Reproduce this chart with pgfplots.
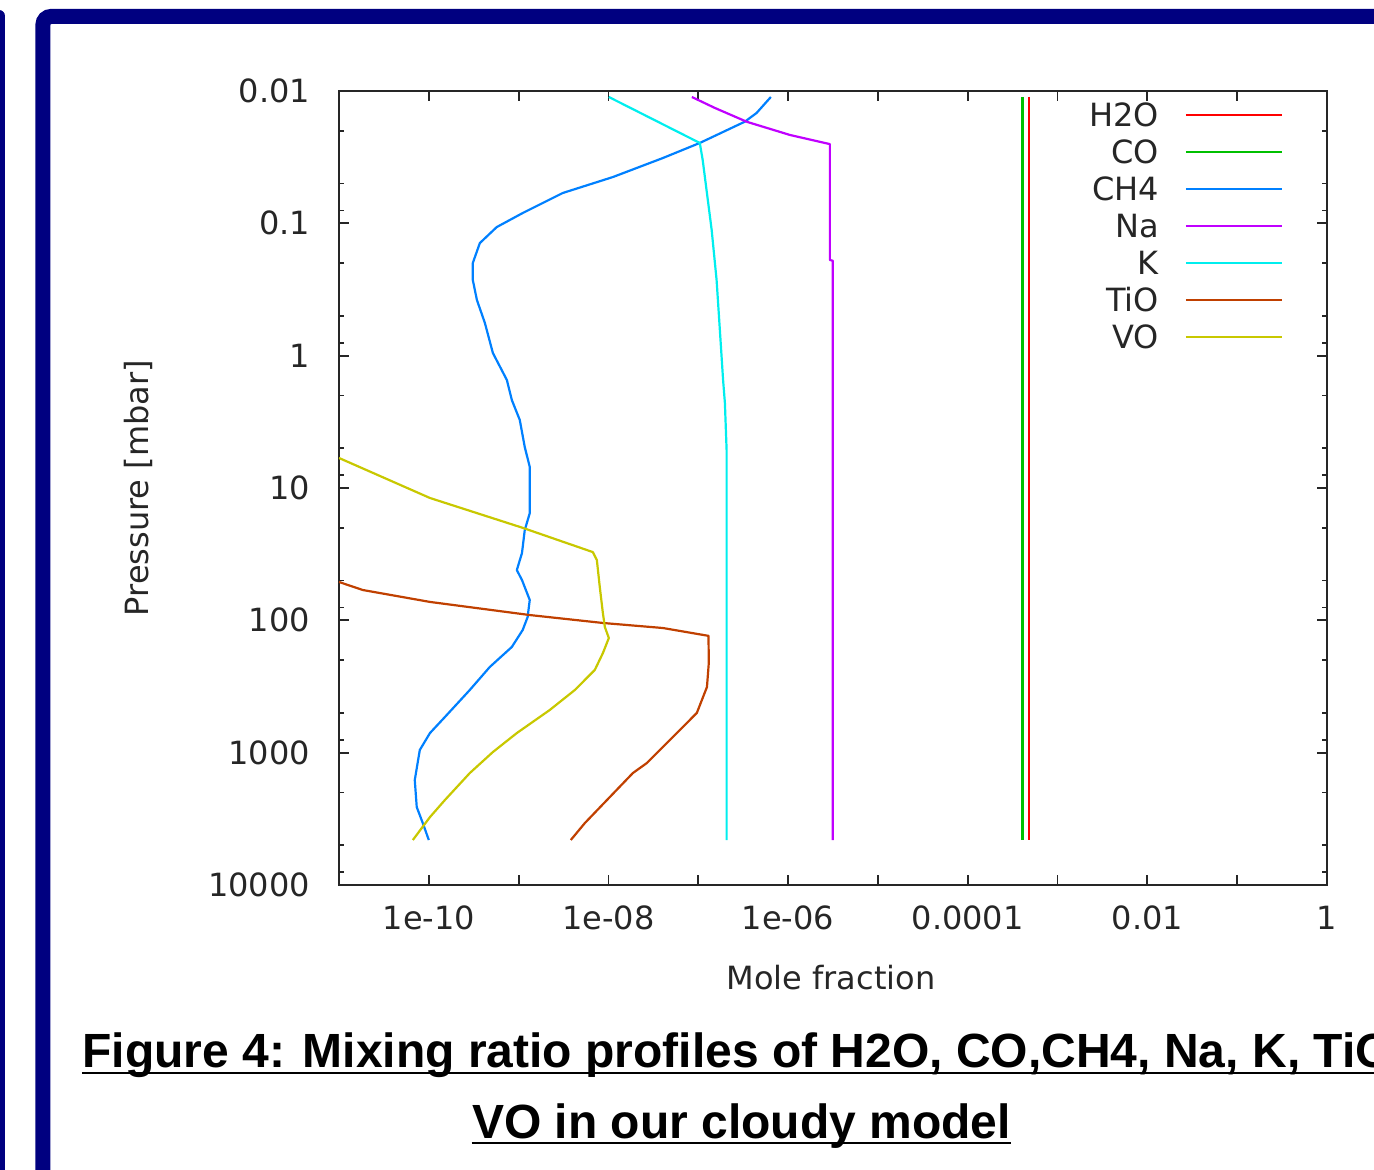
\documentclass[border=0pt]{standalone}
\usepackage{pgfplots}
\pgfplotsset{compat=1.18}
\usepackage{fontspec}
\setmainfont{DejaVu Sans}
\newfontfamily\capfont{Liberation Sans}

\definecolor{framenavy}{RGB}{0,0,128}
\definecolor{cHtwoO}{HTML}{FF0000}
\definecolor{cCO}{HTML}{00C000}
\definecolor{cCHfour}{HTML}{0080FF}
\definecolor{cNa}{HTML}{C000FF}
\definecolor{cK}{HTML}{00EEEE}
\definecolor{cTiO}{HTML}{C04000}
\definecolor{cVO}{HTML}{C8C800}

\begin{document}
\begin{tikzpicture}
% page = 1374 x 1170 px at 0.5pt/px, origin at the axis' lower left corner
\useasboundingbox (-169.5pt,-142.5pt) rectangle (517.5pt,442.5pt);
\fill[framenavy, rounded corners=3pt] (-179.5pt,-182.5pt) rectangle (-167pt,437.5pt);
\draw[framenavy, line width=7.5pt, rounded corners=4pt] (-148pt,-207.5pt) rectangle (555.5pt,434.25pt);

\begin{axis}[
  at={(0,0)}, anchor=south west,
  scale only axis,
  width=494pt, height=397pt,
  xmode=log, ymode=log,
  xmin=1e-11, xmax=1,
  ymin=0.01, ymax=10000,
  y dir=reverse,
  axis line style={black!85, line width=1pt},
  tick style={black!85, line width=0.9pt},
  major tick length=5pt, minor tick length=2.6pt,
  tick align=inside,
  xtick={1e-10,1e-9,1e-8,1e-7,1e-6,1e-5,1e-4,1e-3,1e-2,1e-1,1},
  xticklabels={1e-10,,1e-08,,1e-06,,0.0001,,0.01,,1},
  minor x tick style={draw=none},
  ytick={0.01,0.1,1,10,100,1000,10000},
  yticklabels={0.01,0.1,1,10,100,1000,10000},
  minor ytick={0.02,0.05,0.08,0.2,0.5,0.8,2,5,8,20,50,80,200,500,800,2000,5000,8000},
  tick label style={font=\fontsize{16pt}{19pt}\selectfont, text=black!85},
  yticklabel style={xshift=-11pt},
  xticklabel style={yshift=-7pt},
  label style={font=\fontsize{16pt}{19pt}\selectfont, text=black!85},
  xlabel={Mole fraction},
  ylabel={Pressure [mbar]},
  xlabel style={at={(axis description cs:0.498,-0.117)}, anchor=center},
  ylabel style={at={(axis description cs:-0.2034,0.5)}, anchor=center},
  legend cell align=right,
  legend plot pos=right,
  legend image code/.code={\draw[#1] (0pt,0pt) -- (48pt,0pt);},
  legend style={draw=none, fill=none, at={(axis description cs:0.962,0.99)}, anchor=north east,
    font=\fontsize{16pt}{19pt}\selectfont, text=black!85,
    row sep=7pt, column sep=13pt,
    nodes={inner sep=0pt, text height=11.5pt, text depth=0pt}},
  every axis plot/.append style={line width=1.1pt, no markers, line join=round},
]
\addplot[cHtwoO] coordinates {(4.84e-4,0.0111) (4.84e-4,4571)};
\addlegendentry{H2O}
\addplot[cCO] coordinates {(4.08e-4,0.0111) (4.08e-4,4571)};
\addlegendentry{CO}
\addplot[cCHfour] coordinates {
  (6.43e-7,0.0111) (4.46e-7,0.01466) (3.30e-7,0.01706) (1.04e-7,0.0247)
  (4.04e-8,0.0321) (1.12e-8,0.0447) (3.10e-9,0.0590) (1.11e-9,0.0836)
  (5.71e-10,0.1067) (3.70e-10,0.141) (3.09e-10,0.1995) (3.09e-10,0.268)
  (3.43e-10,0.379) (4.21e-10,0.566) (5.17e-10,0.955) (7.40e-10,1.528)
  (8.40e-10,2.163) (1.03e-9,3.06) (1.17e-9,4.90) (1.33e-9,6.93)
  (1.33e-9,15.5) (1.17e-9,20.8) (1.09e-9,31.0) (9.55e-10,41.7)
  (1.09e-9,49.6) (1.33e-9,70.2) (1.26e-9,94.4) (1.11e-9,118.3)
  (8.40e-10,159) (4.78e-10,225) (2.86e-10,336) (1.51e-10,538)
  (1.03e-10,711) (7.94e-11,955) (6.98e-11,1611) (7.34e-11,2576)
  (8.57e-11,3404) (1.0e-10,4571)};
\addlegendentry{CH4}
\addplot[cNa] coordinates {
  (8.49e-8,0.0111) (1.53e-7,0.01343) (3.48e-7,0.0171) (1.05e-6,0.0215)
  (2.92e-6,0.0252) (2.92e-6,0.189) (3.15e-6,0.192) (3.15e-6,4571)};
\addlegendentry{Na}
\addplot[cK] coordinates {
  (1.01e-8,0.0111) (1.04e-7,0.0247) (1.12e-7,0.0332) (1.41e-7,0.1122)
  (1.60e-7,0.268) (1.74e-7,0.640) (1.89e-7,1.528) (1.98e-7,2.28)
  (2.07e-7,5.25) (2.07e-7,4571)};
\addlegendentry{K}
\addplot[cTiO] coordinates {
  (1.0e-11,51.3) (1.84e-11,59.0) (1.03e-10,72.6) (1.33e-9,91.2)
  (8.67e-9,104.7) (4.04e-8,114.3) (1.30e-7,131) (1.31e-7,210)
  (1.25e-7,319) (9.64e-8,501) (6.73e-8,640) (2.68e-8,1197)
  (1.87e-8,1426) (5.46e-9,3404) (3.81e-9,4571)};
\addlegendentry{TiO}
\addplot[cVO] coordinates {
  (1.0e-11,5.93) (1.03e-10,11.9) (1.11e-9,20.0) (6.70e-9,30.5)
  (7.43e-9,35.0) (8.01e-9,56.0) (8.67e-9,88.1) (9.12e-9,112.2)
  (1.01e-8,136) (8.67e-9,177) (7.05e-9,237) (4.23e-9,336)
  (2.22e-9,476) (9.55e-10,711) (5.17e-10,989) (2.86e-10,1426)
  (1.51e-10,2281) (1.03e-10,3067) (6.64e-11,4571)};
\addlegendentry{VO}
\end{axis}

% caption
\node[anchor=base west, inner sep=0pt, font=\capfont\bfseries\fontsize{24pt}{28pt}\selectfont]
  (c1) at (-128.5pt,-91.5pt) {Figure 4: Mixing ratio profiles of H2O, CO,CH4, Na, K, TiO};
\draw[line width=1.4pt] (-128.5pt,-94pt) -- (c1.east |- 0,-94pt);
\node[anchor=base, inner sep=0pt, font=\capfont\bfseries\fontsize{24pt}{28pt}\selectfont]
  (c2) at (201.25pt,-126.5pt) {VO in our cloudy model};
\draw[line width=1.4pt] (c2.west |- 0,-129pt) -- (c2.east |- 0,-129pt);
\end{tikzpicture}
\end{document}
